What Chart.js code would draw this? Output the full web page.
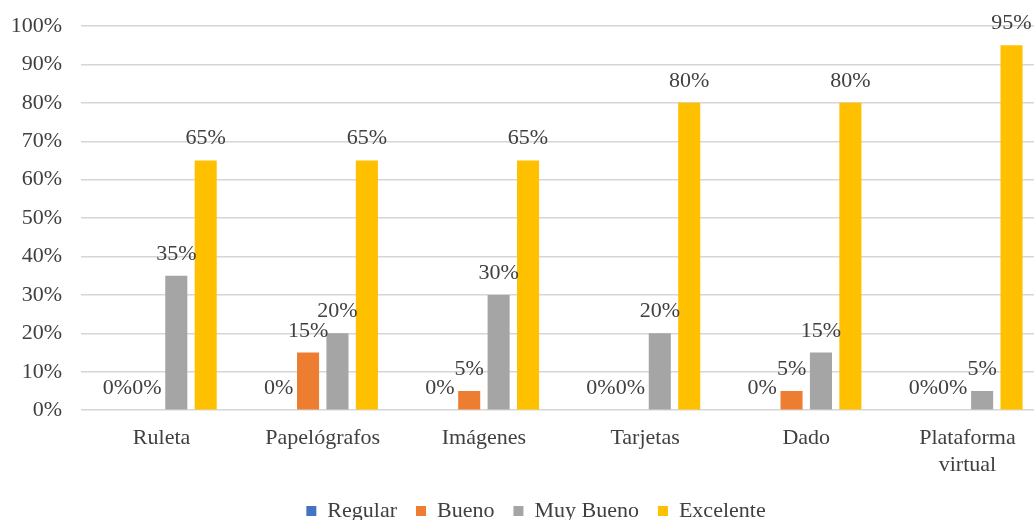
<!DOCTYPE html>
<html>
<head>
<meta charset="utf-8">
<script src="https://cdn.jsdelivr.net/npm/chart.js@4/dist/chart.umd.min.js"></script>
<style>
  html, body { margin: 0; padding: 0; background: #ffffff; overflow: hidden; }
  #wrap { width: 1048px; height: 520px; }
</style>
</head>
<body>
<div id="wrap"><canvas id="chart" width="1048" height="520"></canvas></div>
<script>
// Recursos didácticos evaluados
const categories = ['Ruleta', 'Papelógrafos', 'Imágenes', 'Tarjetas', 'Dado', ['Plataforma', 'virtual']];

// Porcentaje de respuestas por valoración
const regular   = [0, 0, 0, 0, 0, 0];
const bueno     = [0, 15, 5, 0, 5, 0];
const muyBueno  = [35, 20, 30, 20, 15, 5];
const excelente = [65, 65, 65, 80, 80, 95];

const seriesNames = ['Regular', 'Bueno', 'Muy Bueno', 'Excelente'];
const seriesColors = ['#4472C4', '#ED7D31', '#A5A5A5', '#FFC000'];

const FONT = "'Liberation Serif', 'Times New Roman', serif";
const TEXT = '#404040';

// Etiqueta de valor encima de cada barra
const valueLabels = {
  id: 'valueLabels',
  afterDatasetsDraw(chart) {
    const ctx = chart.ctx;
    ctx.save();
    ctx.font = '22px ' + FONT;
    ctx.fillStyle = TEXT;
    ctx.textAlign = 'center';
    ctx.textBaseline = 'alphabetic';
    chart.data.datasets.forEach((ds, i) => {
      const meta = chart.getDatasetMeta(i);
      if (meta.hidden) return;
      meta.data.forEach((bar, j) => {
        ctx.fillText(ds.data[j] + '%', bar.x, bar.y - 16);
      });
    });
    ctx.restore();
  }
};

// Leyenda más compacta en vertical y algo desplazada a la derecha
const legendTrim = {
  id: 'legendTrim',
  afterInit(chart) {
    const lg = chart.legend;
    if (!lg) return;
    const fit = lg.fit.bind(lg);
    lg.fit = function () {
      fit();
      this.height -= 12;
      if (this.lineWidths && this.lineWidths.length) this.lineWidths[0] -= 24;
    };
  }
};

const seriesData = [regular, bueno, muyBueno, excelente];

new Chart(document.getElementById('chart'), {
  type: 'bar',
  data: {
    labels: categories,
    datasets: seriesNames.map((name, i) => ({
      label: name,
      data: seriesData[i],
      backgroundColor: seriesColors[i],
      borderWidth: 0,
      categoryPercentage: 0.73,
      barPercentage: 0.75
    }))
  },
  options: {
    responsive: false,
    animation: false,
    layout: { padding: { top: 26, right: 0, left: 0, bottom: 0 } },
    plugins: {
      tooltip: { enabled: false },
      legend: {
        position: 'bottom',
        labels: {
          font: { family: FONT, size: 22 },
          color: TEXT,
          boxWidth: 10,
          boxHeight: 10,
          padding: 19
        }
      }
    },
    scales: {
      x: {
        afterFit(scale) { scale.height -= 4; },
        grid: { display: false },
        border: { display: false },
        ticks: {
          font: { family: FONT, size: 22 },
          color: TEXT,
          padding: 7,
          maxRotation: 0,
          autoSkip: false
        }
      },
      y: {
        min: 0,
        max: 100,
        afterFit(scale) {
          scale.width = 81;
          scale.paddingTop = 0;
          scale.paddingBottom = 0;
        },
        grid: { color: '#D6D6D6', lineWidth: 1.5, drawTicks: false },
        border: { display: false },
        ticks: {
          stepSize: 10,
          font: { family: FONT, size: 22 },
          color: TEXT,
          padding: 19,
          callback: v => v + '%'
        }
      }
    }
  },
  plugins: [valueLabels, legendTrim]
});
</script>
</body>
</html>
